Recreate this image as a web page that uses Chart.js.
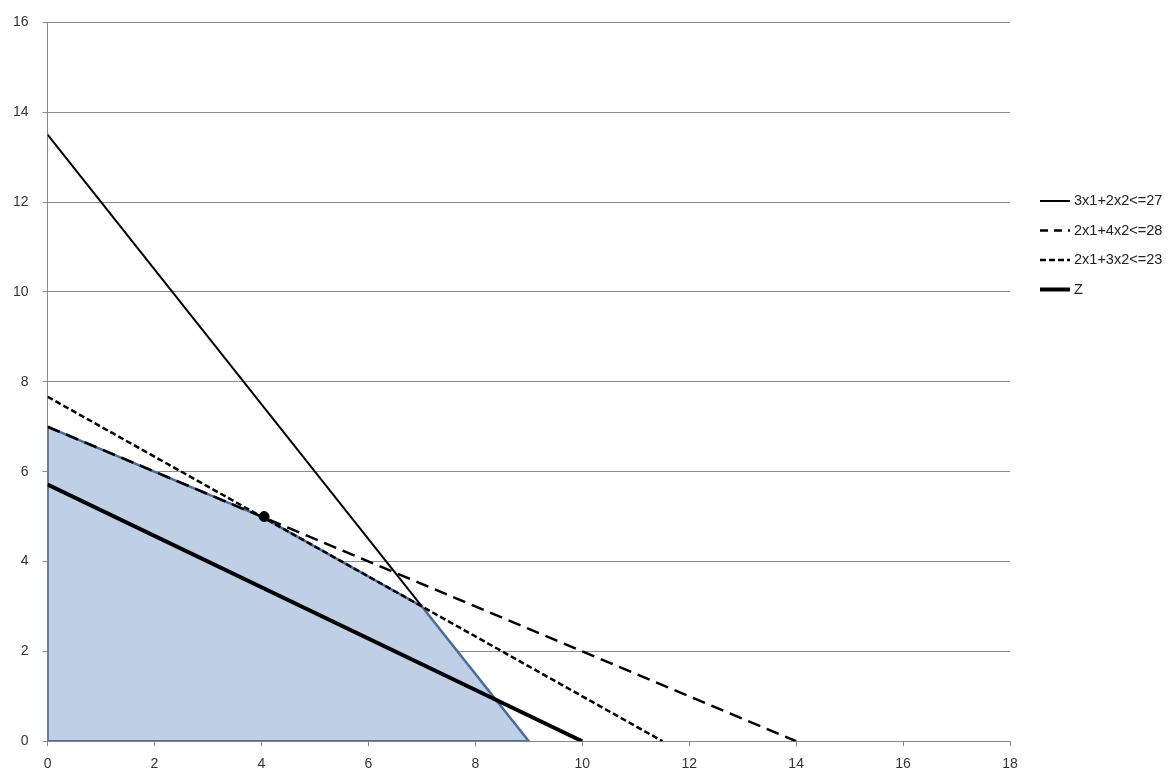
<!DOCTYPE html>
<html lang="en">
<head>
    <meta charset="UTF-8">
    <title>Feasible region</title>
    <script src="https://cdn.jsdelivr.net/npm/chart.js"></script>
    <style>
        body { margin: 0; background: #fff; }
        #wrap { width: 1168px; height: 772px; position: relative; }
    </style>
</head>
<body>
<div id="wrap"><canvas id="chart"></canvas></div>

<script>
    // constraint lines (x1, x2 pairs)
    const labels = ['3x1+2x2<=27', '2x1+4x2<=28', '2x1+3x2<=23', 'Z'];
    const line1X = [0, 7];      const line1Y = [13.5, 3];
    const line2X = [0, 14];     const line2Y = [7, 0];
    const line3X = [0, 11.5];   const line3Y = [7.667, 0];
    const zX = [0, 10];         const zY = [5.714, 0];

    // feasible region corners
    const regionX = [0, 0, 4, 7, 9];
    const regionY = [0, 7, 5, 3, 0];

    // optimum marker
    const optX = [4.05];
    const optY = [5];

    const xTicks = [0, 2, 4, 6, 8, 10, 12, 14, 16, 18];
    const yTicks = [0, 2, 4, 6, 8, 10, 12, 14, 16];

    const FONT = '"Liberation Sans", Arial, sans-serif';

    function pts(xs, ys) {
        return xs.map((x, i) => ({ x: x, y: ys[i] }));
    }

    const lineStyles = [
        { width: 2, dash: [] },
        { width: 2.5, dash: [13, 7] },
        { width: 2.5, dash: [6, 3] },
        { width: 4, dash: [] }
    ];

    // simple legend on the right, like the original
    const sideLegend = {
        id: 'sideLegend',
        afterDraw(chart) {
            const ctx = chart.ctx;
            const x0 = 1040, y0 = 201, gap = 29.5;
            ctx.save();
            ctx.font = '14.5px ' + FONT;
            ctx.textBaseline = 'middle';
            labels.forEach((t, i) => {
                const y = y0 + i * gap;
                ctx.strokeStyle = '#000';
                ctx.lineWidth = lineStyles[i].width;
                ctx.setLineDash(i === 1 ? [8, 6] : i === 2 ? [6, 3] : []);
                ctx.beginPath();
                ctx.moveTo(x0, y);
                ctx.lineTo(x0 + 30, y);
                ctx.stroke();
                ctx.setLineDash([]);
                ctx.fillStyle = '#222';
                ctx.fillText(t, x0 + 34, y);
            });
            ctx.restore();
        }
    };

    const lineSets = [
        pts(line1X, line1Y), pts(line2X, line2Y), pts(line3X, line3Y), pts(zX, zY)
    ].map((data, i) => ({
        label: labels[i],
        data: data,
        showLine: true,
        borderColor: '#000',
        borderWidth: lineStyles[i].width,
        borderDash: lineStyles[i].dash,
        pointRadius: 0,
        fill: false,
        order: 2
    }));

    const closedRegion = pts(regionX.concat([regionX[0]]), regionY.concat([regionY[0]]));

    new Chart(document.getElementById('chart'), {
        type: 'scatter',
        data: {
            datasets: [
                {
                    label: 'optimum',
                    data: pts(optX, optY),
                    pointRadius: 5,
                    pointBackgroundColor: '#000',
                    pointBorderColor: '#000',
                    order: 0
                },
                ...lineSets,
                {
                    label: 'region edge',
                    data: closedRegion,
                    showLine: true,
                    borderColor: '#4a6d9b',
                    borderWidth: 2.5,
                    pointRadius: 0,
                    fill: false,
                    order: 3
                },
                {
                    label: 'region',
                    data: pts(regionX, regionY),
                    showLine: true,
                    borderWidth: 0,
                    borderColor: 'rgba(0,0,0,0)',
                    backgroundColor: '#bfcfe6',
                    pointRadius: 0,
                    fill: 'origin',
                    order: 4
                }
            ]
        },
        options: {
            responsive: true,
            maintainAspectRatio: false,
            animation: false,
            layout: { padding: { top: 22, right: 158, bottom: -11, left: -1 } },
            plugins: {
                legend: { display: false },
                tooltip: { enabled: false }
            },
            scales: {
                x: {
                    type: 'linear',
                    min: 0,
                    max: 18,
                    afterBuildTicks: s => { s.ticks = xTicks.map(v => ({ value: v })); },
                    grid: { drawOnChartArea: false, drawTicks: true, tickLength: 5, color: '#888' },
                    border: { color: '#888', width: 1 },
                    ticks: { color: '#333', padding: 10, maxRotation: 0, font: { family: FONT, size: 14 } }
                },
                y: {
                    type: 'linear',
                    min: 0,
                    max: 16,
                    afterBuildTicks: s => { s.ticks = yTicks.map(v => ({ value: v })); },
                    grid: { color: '#8c8c8c', lineWidth: 1, tickLength: 5 },
                    border: { color: '#888', width: 1 },
                    ticks: { color: '#333', padding: 14, font: { family: FONT, size: 14 } }
                }
            }
        },
        plugins: [sideLegend]
    });
</script>
</body>
</html>
